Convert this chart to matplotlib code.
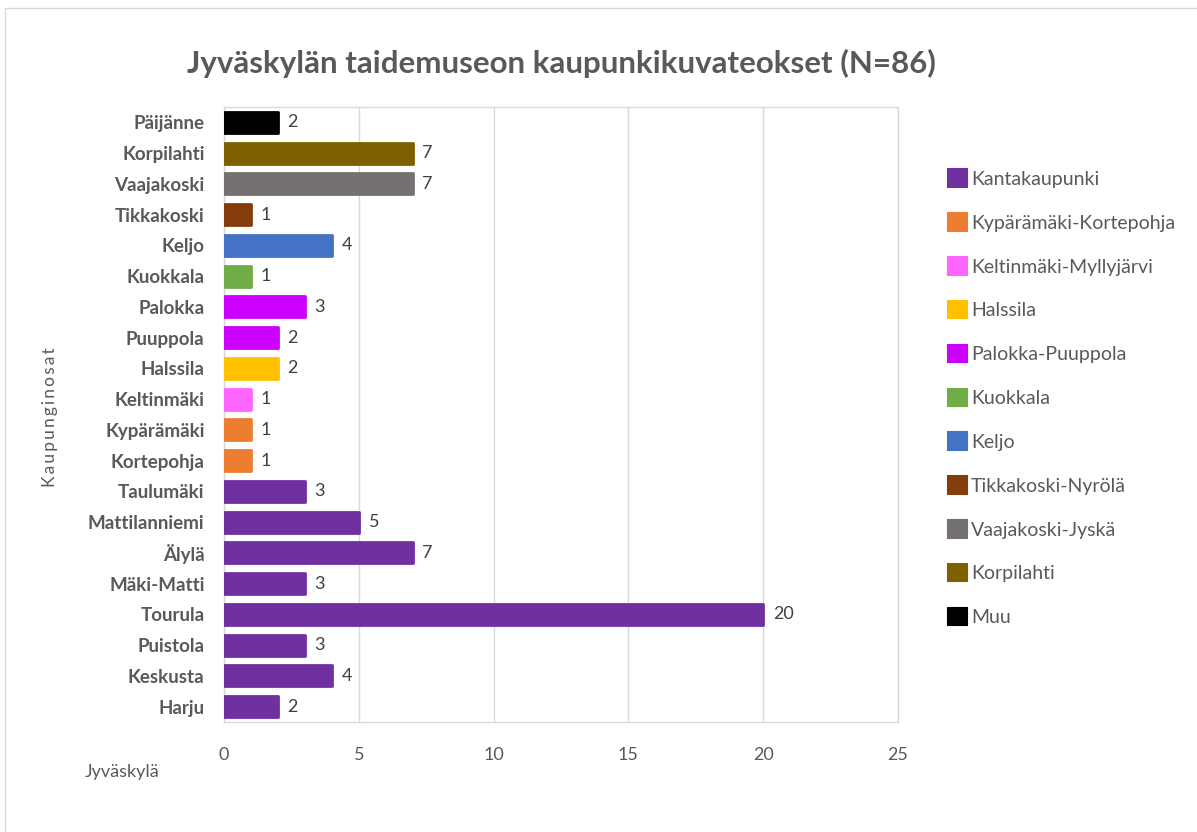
from matplotlib import pyplot as plt
from matplotlib.patches import Patch, Rectangle
import numpy as np

plt.rcParams['font.family'] = ['Lato', 'DejaVu Sans']

# bottom to top, as in the chart
districts = ['Harju', 'Keskusta', 'Puistola', 'Tourula', 'Mäki-Matti', 'Älylä',
             'Mattilanniemi', 'Taulumäki', 'Kortepohja', 'Kypärämäki', 'Keltinmäki',
             'Halssila', 'Puuppola', 'Palokka', 'Kuokkala', 'Keljo', 'Tikkakoski',
             'Vaajakoski', 'Korpilahti', 'Päijänne']
counts = [2, 4, 3, 20, 3, 7, 5, 3, 1, 1, 1, 2, 2, 3, 1, 4, 1, 7, 7, 2]
groups = ['Kantakaupunki'] * 8 + ['Kypärämäki-Kortepohja'] * 2 + \
    ['Keltinmäki-Myllyjärvi', 'Halssila', 'Palokka-Puuppola', 'Palokka-Puuppola',
     'Kuokkala', 'Keljo', 'Tikkakoski-Nyrölä', 'Vaajakoski-Jyskä', 'Korpilahti', 'Muu']

group_names = ['Kantakaupunki', 'Kypärämäki-Kortepohja', 'Keltinmäki-Myllyjärvi',
               'Halssila', 'Palokka-Puuppola', 'Kuokkala', 'Keljo',
               'Tikkakoski-Nyrölä', 'Vaajakoski-Jyskä', 'Korpilahti', 'Muu']
group_colors = ['#7030A0', '#ED7D31', '#FF66FF', '#FFC000', '#CC00FF', '#70AD47',
                '#4472C4', '#843C0C', '#767171', '#7F6000', '#000000']
color_of = dict(zip(group_names, group_colors))

text_col = '#595959'
grid_col = '#d9d9d9'

fig = plt.figure(figsize=(11.97, 8.32), dpi=100)
ax = fig.add_axes([0.1871, 0.1322, 0.5631, 0.7392])

# outer chart frame (only top and left edges visible)
fig.patches.append(Rectangle((5 / 1197, -0.1), 1.2, 1 - 8 / 832 + 0.1,
                             transform=fig.transFigure, fill=False,
                             edgecolor=grid_col, linewidth=1))

y = np.arange(len(districts))
bar_colors = [color_of[g] for g in groups]
bars = ax.barh(y, counts, height=0.68, color=bar_colors, edgecolor=bar_colors,
               linewidth=2, zorder=3)
for b in bars:
    b.set_joinstyle('round')

for yi, c in zip(y, counts):
    ax.annotate(str(c), (c, yi), xytext=(7, 0), textcoords='offset points',
                va='center', ha='left', fontsize=13, color='#404040')

ax.set_xlim(0, 25)
ax.set_ylim(-0.5, len(districts) - 0.5)
ax.set_xticks(range(0, 26, 5))
ax.set_yticks(y)
ax.set_yticklabels(districts, fontsize=13.5, fontweight='bold', color=text_col)
ax.tick_params(axis='x', length=0, pad=18, labelsize=13, labelcolor=text_col)
ax.tick_params(axis='y', length=0, pad=14)
ax.grid(axis='x', color=grid_col, linewidth=1, zorder=0)
for s in ax.spines.values():
    s.set_color(grid_col)
    s.set_linewidth(1)
ax.spines['top'].set_linestyle((0, (2, 1)))
ax.spines['bottom'].set_linestyle((0, (2, 1)))

fig.text(561 / 1197, 1 - 63 / 832, 'Jyväskylän taidemuseon kaupunkikuvateokset (N=86)',
         ha='center', va='center', fontsize=22.5, fontweight='bold', color=text_col)
fig.text(50 / 1197, 1 - 417 / 832, 'K a u p u n g i n o s a t'.replace(' ', '\u2009'),
         rotation=90, ha='center', va='center', fontsize=12.5, color=text_col)
fig.text(122 / 1197, 1 - 772 / 832, 'Jyväskylä', ha='center', va='center',
         fontsize=13, color=text_col)

handles = [Patch(facecolor=c, edgecolor=c, linewidth=1.5, joinstyle='round')
           for c in group_colors]
fig.legend(handles, group_names, loc='upper left',
           bbox_to_anchor=(930 / 1197, 1 - 152 / 832), frameon=False,
           handlelength=1.0, handleheight=1.0, handletextpad=0.2,
           labelspacing=1.31, fontsize=14, labelcolor=text_col)

plt.savefig('out.png', dpi=100)
